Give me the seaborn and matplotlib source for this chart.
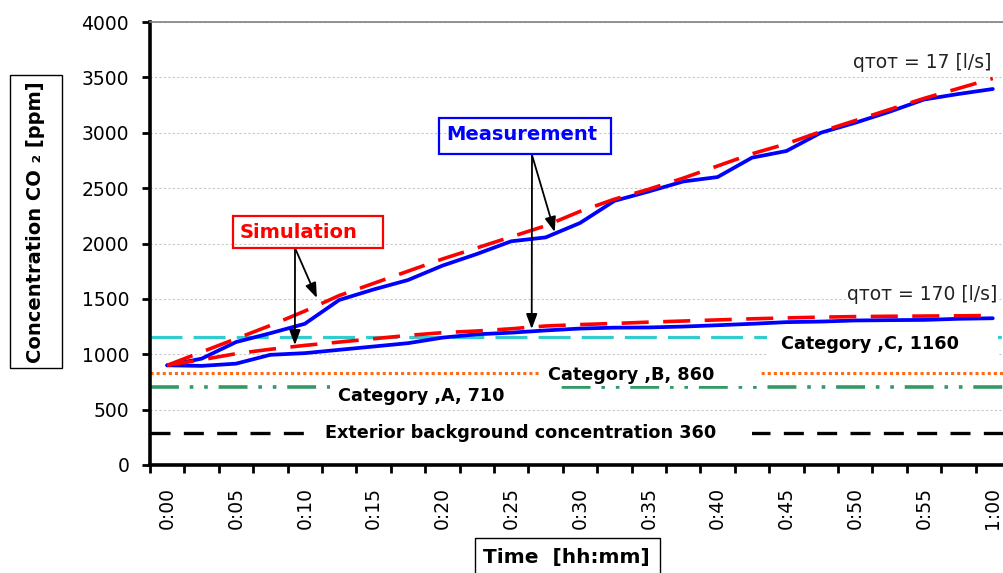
import numpy as np
import pandas as pd
import matplotlib
matplotlib.use("Agg")
import matplotlib.pyplot as plt
from matplotlib.patches import Rectangle
import seaborn as sns

# ---------------- data ----------------
minutes = [0, 2.5, 5, 7.5, 10, 12.5, 15, 17.5, 20, 22.5, 25, 27.5, 30,
           32.5, 35, 37.5, 40, 42.5, 45, 47.5, 50, 52.5, 55, 57.5, 60]
meas_17 = [900, 960, 1110, 1190, 1275, 1490, 1585, 1670, 1800, 1905, 2020, 2055, 2185,
           2385, 2470, 2560, 2600, 2775, 2835, 3000, 3090, 3190, 3300, 3350, 3395]
sim_17 = [900, 1020, 1140, 1260, 1390, 1530, 1640, 1750, 1860, 1960, 2060, 2160, 2290,
          2400, 2490, 2590, 2700, 2810, 2900, 3010, 3110, 3210, 3310, 3400, 3490]
meas_170 = [900, 895, 915, 995, 1010, 1040, 1070, 1100, 1150, 1180, 1195, 1215, 1232,
            1240, 1242, 1250, 1262, 1275, 1290, 1295, 1305, 1308, 1310, 1320, 1325]
sim_170 = [900, 950, 1005, 1045, 1080, 1110, 1140, 1170, 1195, 1210, 1230, 1255, 1268,
           1278, 1290, 1300, 1310, 1320, 1328, 1335, 1340, 1343, 1345, 1347, 1350]

ref_names = ["Category ,C, 1160", "Category ,B, 860", "Category ,A, 710",
             "Exterior background concentration 360"]
ref_levels = [1160, 830, 700, 292]

tick_minutes = [0, 5, 10, 15, 20, 25, 30, 35, 40, 45, 50, 55, 60]
tick_labels = ["0:00", "0:05", "0:10", "0:15", "0:20", "0:25", "0:30",
               "0:35", "0:40", "0:45", "0:50", "0:55", "1:00"]
y_ticks = [0, 500, 1000, 1500, 2000, 2500, 3000, 3500, 4000]

df = pd.DataFrame({"t": minutes, "meas_17": meas_17, "sim_17": sim_17,
                   "meas_170": meas_170, "sim_170": sim_170})

# ---------------- style ----------------
sns.set_theme(style="white")
plt.rcParams["font.family"] = ["DejaVu Sans"]

W, H = 1004, 573
fig = plt.figure(figsize=(W / 100, H / 100), dpi=100)


def fx(x):
    return x / W


def fy(y):
    return 1 - y / H


ax = fig.add_axes([fx(150), fy(465), 860 / W, 443 / H])
ax.set_axisbelow(True)

# reference lines
ref_styles = [
    dict(color="#33CCCC", lw=2.3, linestyle=(0, (10, 3.5))),
    dict(color="#FF6A13", lw=2.2, linestyle=(0, (1.0, 1.0))),
    dict(color="#339966", lw=2.6, linestyle=(0, (8, 3, 1, 3, 1, 3))),
    dict(color="black", lw=2.4, linestyle=(0, (6, 4))),
]
for lvl, st in zip(ref_levels, ref_styles):
    ax.axhline(lvl, zorder=2, **st)

# white label boxes (x in minutes, y in ppm) and label text anchors
label_boxes = [(43.56, 966, 16.8, 253), (27.0, 713, 16.1, 217),
               (11.8, 533, 16.7, 207), (10.8, 190, 31.7, 198)]
label_anchor = [(44.63, 1090), (27.65, 810), (12.4, 620), (11.46, 289)]
for (bx, by, bw, bh), (tx, ty), name in zip(label_boxes, label_anchor, ref_names):
    ax.add_patch(Rectangle((bx, by), bw, bh, facecolor="white",
                           edgecolor="none", zorder=3))
    ax.text(tx, ty, name, ha="left", va="center", fontsize=12.7,
            fontweight="bold", color="black", zorder=5)

# data series
sns.lineplot(data=df, x="t", y="meas_17", ax=ax, color="#0000FF", lw=2.7,
             zorder=4, solid_joinstyle="round")
sns.lineplot(data=df, x="t", y="sim_17", ax=ax, color="#FF0000", lw=2.6,
             dashes=(7.5, 4), zorder=4.5)
sns.lineplot(data=df, x="t", y="meas_170", ax=ax, color="#0000FF", lw=2.7,
             zorder=4, solid_joinstyle="round")
sns.lineplot(data=df, x="t", y="sim_170", ax=ax, color="#FF0000", lw=2.6,
             dashes=(7.5, 4), zorder=4.5)

# axes
ax.set_xlim(-1.25, 61.25)
ax.set_ylim(0, 4000)
ax.set_xticks(tick_minutes)
ax.set_xticklabels(tick_labels)
ax.set_xticks(np.arange(-1.25, 61.3, 2.5), minor=True)
ax.set_yticks(y_ticks)
ax.set_yticklabels([str(v) for v in y_ticks])
ax.tick_params(axis="x", which="major", length=0, pad=16, labelrotation=90,
               labelsize=13.5, colors="black")
ax.tick_params(axis="x", which="minor", length=6, width=2, direction="out",
               color="black", bottom=True)
ax.tick_params(axis="y", which="major", length=6, width=2, direction="out",
               pad=9, labelsize=13.5, colors="black", left=True)
ax.set_xlabel("")
ax.set_ylabel("")
ax.yaxis.grid(True, color="#c8c8c8", linestyle=(0, (2, 2)), lw=0.8)
ax.xaxis.grid(False)
for s in ["left", "bottom"]:
    ax.spines[s].set_color("black")
    ax.spines[s].set_linewidth(2.6)
ax.spines["top"].set_color("#808080")
ax.spines["top"].set_linewidth(1.2)
ax.spines["right"].set_visible(False)

# flow-rate labels
ax.text(59.9, 3630, "q\u1d1b\u1d0f\u1d1b = 17 [l/s]", ha="right", va="center",
        fontsize=13.5, color="#222222", zorder=5)
ax.text(60.34, 1535, "q\u1d1b\u1d0f\u1d1b = 170 [l/s]", ha="right", va="center",
        fontsize=13.5, color="#222222", zorder=5,
        bbox=dict(facecolor="white", edgecolor="none", pad=1))

# framed text boxes (figure pixels)
def frame(x0, y0, x1, y1, color, lw):
    fig.add_artist(Rectangle((fx(x0), fy(y1)), (x1 - x0) / W, (y1 - y0) / H,
                             transform=fig.transFigure, fill=False,
                             edgecolor=color, lw=lw, zorder=6))

frame(233, 216, 383, 248, "#FF0000", 1.6)
fig.text(fx(240), fy(232), "Simulation", ha="left", va="center", fontsize=14,
         fontweight="bold", color="#FF0000")
frame(439, 118, 611, 154, "#0000FF", 1.6)
fig.text(fx(446), fy(135), "Measurement", ha="left", va="center", fontsize=14,
         fontweight="bold", color="#0000FF")

frame(10, 75, 62, 368, "black", 1.0)
fig.text(fx(36), fy(222), "Concentration CO \u2082 [ppm]", rotation=90,
         ha="center", va="center", fontsize=14, fontweight="bold", color="black")
frame(475, 538, 660, 590, "black", 1.0)
fig.text(fx(566), fy(557), "Time  [hh:mm]", ha="center", va="center",
         fontsize=14.5, fontweight="bold", color="black")

# arrows
arrow_kw = dict(arrowstyle="-|>,head_length=0.75,head_width=0.28", color="black",
                lw=1.3, shrinkA=0, shrinkB=0, mutation_scale=12)
for start, heads in [((295, 248), [(10.88, 1508), (9.28, 1083)]),
                     ((532, 155), [(28.16, 2104), (26.49, 1228)])]:
    for hx, hy in heads:
        ax.annotate("", xy=(hx, hy), xycoords="data",
                    xytext=(fx(start[0]), fy(start[1])),
                    textcoords="figure fraction", arrowprops=arrow_kw,
                    zorder=7, annotation_clip=False)

fig.savefig("out.png", dpi=100)
